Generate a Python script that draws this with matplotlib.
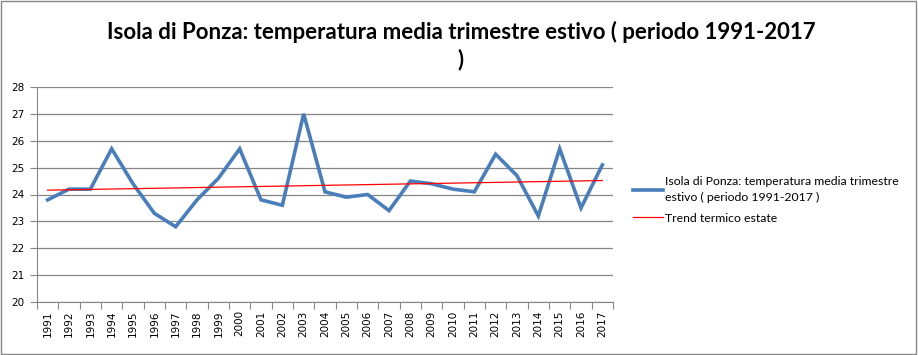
import numpy as np
import matplotlib.pyplot as plt

# dati
anni = [str(a) for a in range(1991, 2018)]
temperatura = [23.8, 24.2, 24.2, 25.7, 24.4, 23.3, 22.8, 23.8, 24.6, 25.7,
               23.8, 23.6, 27.0, 24.1, 23.9, 24.0, 23.4, 24.5, 24.4, 24.2,
               24.1, 25.5, 24.7, 23.2, 25.7, 23.5, 25.1]
titolo = "Isola di Ponza: temperatura media trimestre estivo ( periodo 1991-2017\n)"
nome_serie = "Isola di Ponza: temperatura media trimestre\nestivo ( periodo 1991-2017 )"
nome_trend = "Trend termico estate"

x = np.arange(len(anni))
coef = np.polyfit(x, temperatura, 1)
trend = np.polyval(coef, x)

fig = plt.figure(figsize=(9.18, 3.55), dpi=100)
ax = fig.add_axes([37 / 918, 1 - 302 / 355, (613 - 37) / 918, (302 - 87) / 355])

l1, = ax.plot(x, temperatura, color='#4a7ebb', linewidth=2.6, solid_joinstyle='miter')
l2, = ax.plot(x, trend, color='red', linewidth=0.9)

ax.set_xlim(-0.5, len(anni) - 0.5)
ax.set_ylim(20, 28)
ax.set_yticks(range(20, 29))
ax.yaxis.grid(True, color='#868686', linewidth=0.9)
ax.set_axisbelow(True)

ax.set_xticks(np.arange(-0.5, len(anni)), minor=False)
ax.set_xticklabels([])
ax.set_xticks(x, minor=True)
ax.set_xticklabels(anni, minor=True, rotation=90, fontsize=7.5, family='DejaVu Sans')
ax.tick_params(axis='x', which='major', length=5, color='#868686', direction='out')
ax.tick_params(axis='x', which='minor', length=0, pad=6)
ax.tick_params(axis='y', length=5, color='#868686', labelsize=7.5, pad=4)

for s in ['top', 'right']:
    ax.spines[s].set_visible(False)
for s in ['left', 'bottom']:
    ax.spines[s].set_color('#868686')

fig.text(0.502, 0.94, titolo, ha='center', va='top', fontsize=16,
         fontweight='bold', family='Lato', linespacing=1.3)

leg = fig.legend([l1, l2], [nome_serie, nome_trend], loc='upper left',
                 bbox_to_anchor=(628 / 918, 1 - 171 / 355), frameon=False,
                 prop={'family': 'Lato', 'size': 8.8}, handlelength=2.5,
                 handletextpad=0.1, labelspacing=0.8, borderaxespad=0)
for t in leg.get_texts():
    t.set_linespacing(1.55)

# cornice esterna
fig.patches.append(plt.Rectangle((0.001, 0.002), 0.997, 0.996, transform=fig.transFigure,
                                 fill=False, edgecolor='#868686', linewidth=1))

fig.savefig("out.png", dpi=100)
